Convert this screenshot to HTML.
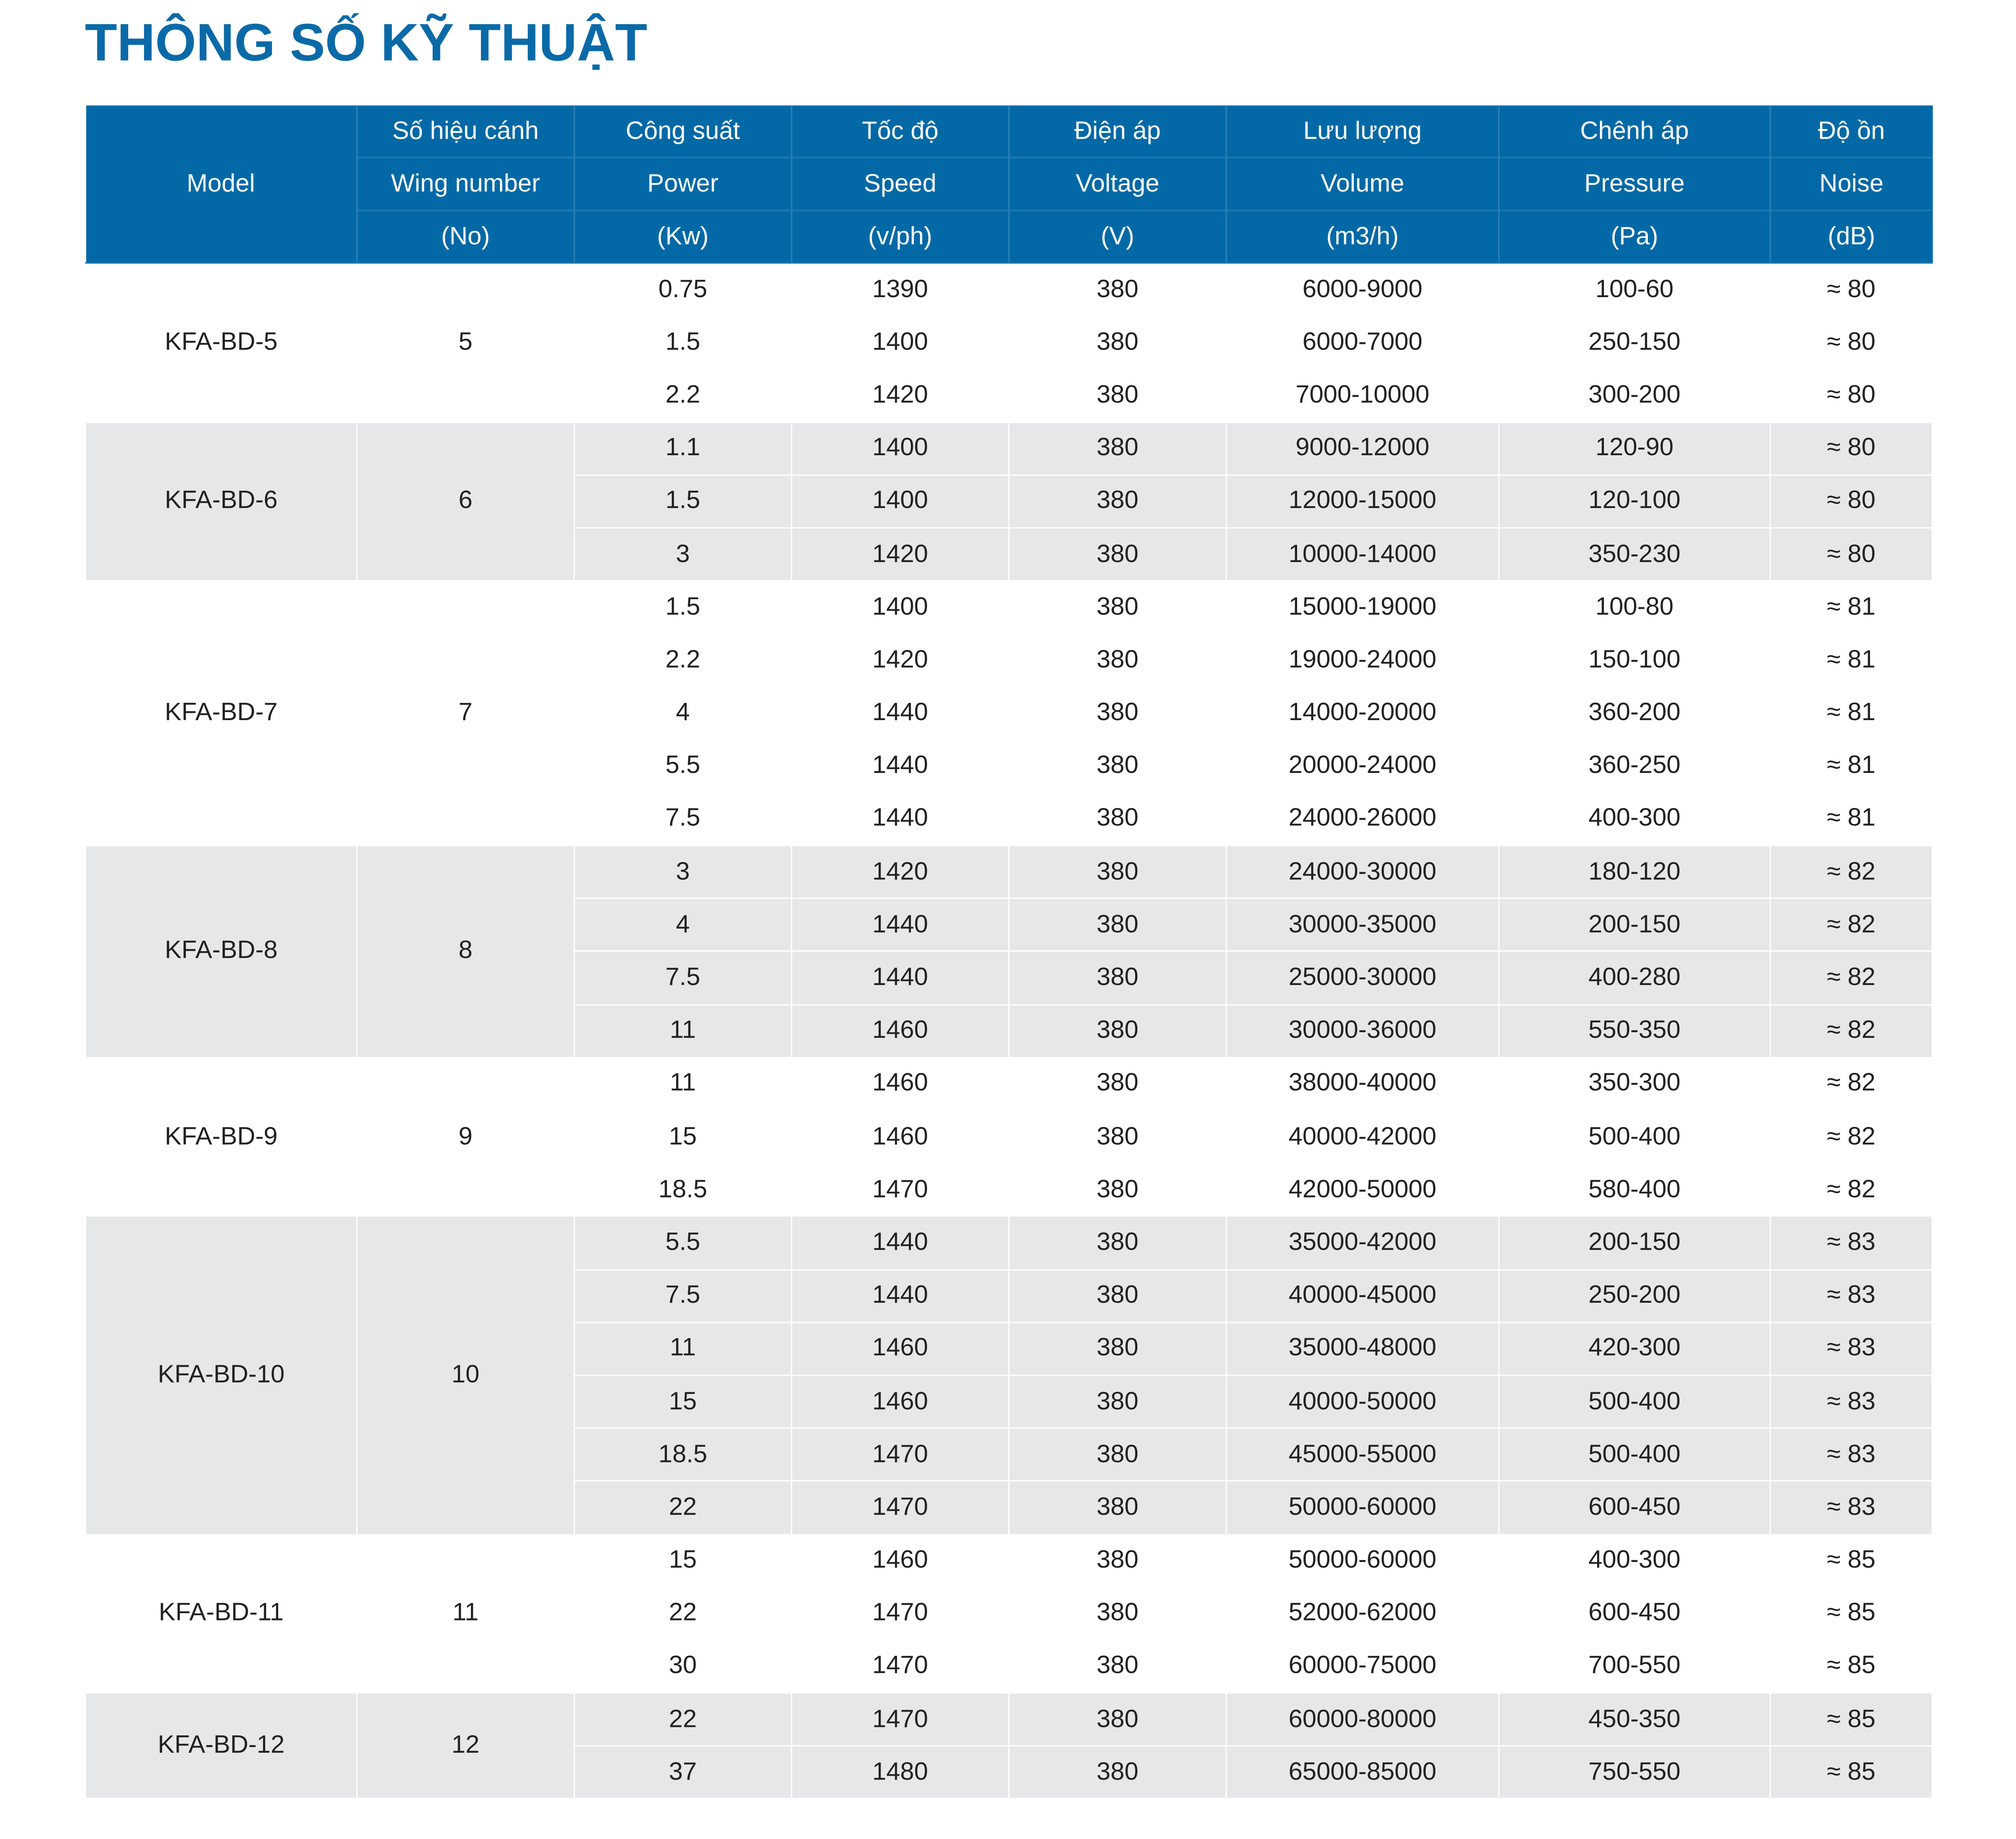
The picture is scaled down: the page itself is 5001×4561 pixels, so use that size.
<!DOCTYPE html>
<html><head><meta charset="utf-8">
<style>
html,body{margin:0;padding:0;background:#fff;}
body{width:5001px;height:4561px;overflow:hidden;position:relative;}
#wrap{position:absolute;left:0;top:0;width:1568px;height:1430px;transform:scale(3.1894);transform-origin:0 0;font-family:"Liberation Sans","Noto Sans CJK SC",sans-serif;}
h1{position:absolute;left:66px;top:10px;margin:0;font-size:41px;font-weight:bold;color:#0a6aa8;}
table{position:absolute;left:66px;top:82px;width:1436px;border-collapse:collapse;table-layout:fixed;}
th{background:#0369a6;color:#fff;font-weight:normal;font-size:19.5px;height:40px;padding:0;border-left:1px solid #2a80b6;border-right:1px solid #2a80b6;border-top:1px solid #1f7ab2;border-bottom:1px solid #1f7ab2;}
th.top{border-top:none;}
td{font-size:19.5px;color:#222;text-align:center;height:40.2px;padding:0;border:1.5px solid #fff;}
tr.g td{background:#e6e7e9;}
</style></head><body>
<div id="wrap">
<h1>THÔNG SỐ KỸ THUẬT</h1>
<table id="t">
<colgroup><col style="width:211px"><col style="width:169px"><col style="width:169px"><col style="width:169px"><col style="width:169px"><col style="width:212px"><col style="width:211px"><col style="width:126px"></colgroup>
<thead>
<tr><th class="top" rowspan="3" style="border-left:none">Model</th><th class="top">Số hiệu cánh</th><th class="top">Công suất</th><th class="top">Tốc độ</th><th class="top">Điện áp</th><th class="top">Lưu lượng</th><th class="top">Chênh áp</th><th class="top" style="border-right:none">Độ ồn</th></tr>
<tr><th>Wing number</th><th>Power</th><th>Speed</th><th>Voltage</th><th>Volume</th><th>Pressure</th><th style="border-right:none">Noise</th></tr>
<tr><th>(No)</th><th>(Kw)</th><th>(v/ph)</th><th>(V)</th><th>(m3/h)</th><th>(Pa)</th><th style="border-right:none">(dB)</th></tr>
</thead>
<tbody id="tb"></tbody>
</table>
</div>
<script>
const groups=[
["KFA-BD-5","5",[["0.75","1390","6000-9000","100-60","80"],["1.5","1400","6000-7000","250-150","80"],["2.2","1420","7000-10000","300-200","80"]]],
["KFA-BD-6","6",[["1.1","1400","9000-12000","120-90","80"],["1.5","1400","12000-15000","120-100","80"],["3","1420","10000-14000","350-230","80"]]],
["KFA-BD-7","7",[["1.5","1400","15000-19000","100-80","81"],["2.2","1420","19000-24000","150-100","81"],["4","1440","14000-20000","360-200","81"],["5.5","1440","20000-24000","360-250","81"],["7.5","1440","24000-26000","400-300","81"]]],
["KFA-BD-8","8",[["3","1420","24000-30000","180-120","82"],["4","1440","30000-35000","200-150","82"],["7.5","1440","25000-30000","400-280","82"],["11","1460","30000-36000","550-350","82"]]],
["KFA-BD-9","9",[["11","1460","38000-40000","350-300","82"],["15","1460","40000-42000","500-400","82"],["18.5","1470","42000-50000","580-400","82"]]],
["KFA-BD-10","10",[["5.5","1440","35000-42000","200-150","83"],["7.5","1440","40000-45000","250-200","83"],["11","1460","35000-48000","420-300","83"],["15","1460","40000-50000","500-400","83"],["18.5","1470","45000-55000","500-400","83"],["22","1470","50000-60000","600-450","83"]]],
["KFA-BD-11","11",[["15","1460","50000-60000","400-300","85"],["22","1470","52000-62000","600-450","85"],["30","1470","60000-75000","700-550","85"]]],
["KFA-BD-12","12",[["22","1470","60000-80000","450-350","85"],["37","1480","65000-85000","750-550","85"]]]
];
const tb=document.getElementById('tb');
groups.forEach((g,gi)=>{
  g[2].forEach((r,ri)=>{
    const tr=document.createElement('tr');
    
    
    if(gi%2===1) tr.className='g';
    let cells=[];
    if(ri===0){cells.push([g[0],'model-cell',g[2].length]);cells.push([g[1],'wing-number-cell',g[2].length]);}
    cells.push([r[0],'power-cell',1],[r[1],'speed-cell',1],['380','voltage-cell',1],[r[2],'volume-cell',1],[r[3],'pressure-cell',1],['≈ '+r[4],'noise-cell',1]);
    cells.forEach(c=>{
      const td=document.createElement('td');
      td.textContent=c[0];
      if(c[2]>1) td.rowSpan=c[2];
      
      
      tr.appendChild(td);
    });
    tb.appendChild(tr);
  });
});
</script>
</body></html>
